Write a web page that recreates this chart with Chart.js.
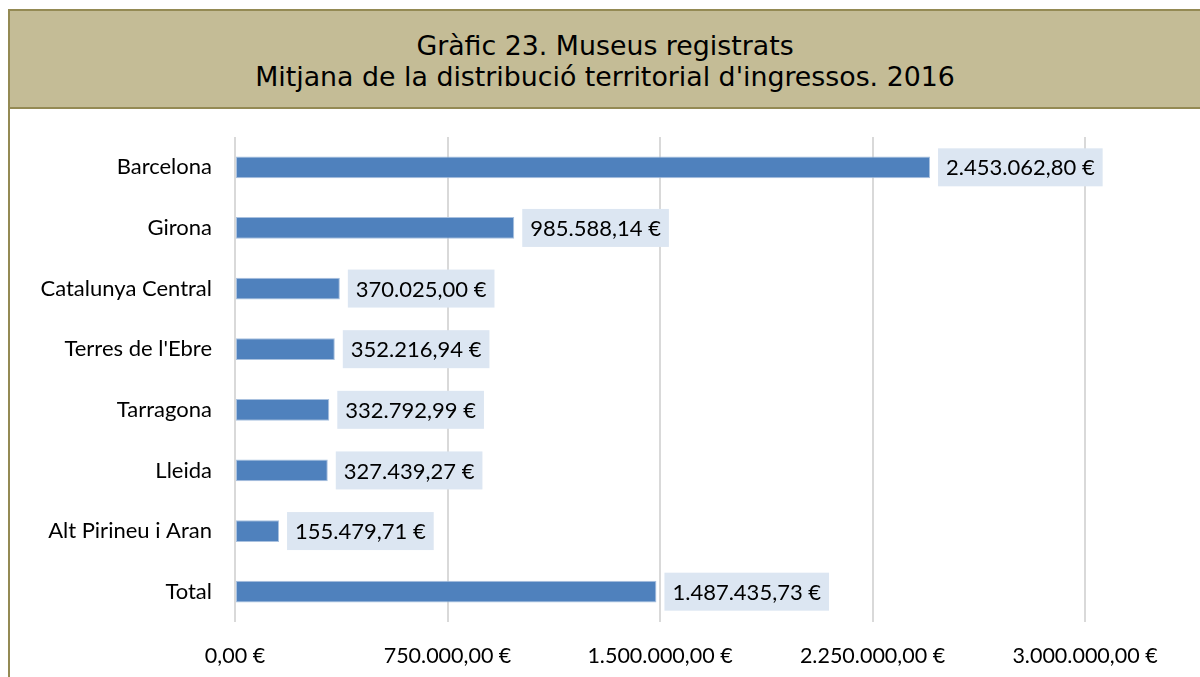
<!DOCTYPE html>
<html>
<head>
<meta charset="utf-8">
<script src="https://cdn.jsdelivr.net/npm/chart.js@4.4.1/dist/chart.umd.min.js"></script>
<style>
  body { margin: 0; width: 1200px; height: 677px; background: #fff; overflow: hidden; position: relative; }
  #marc { position: absolute; left: 8px; top: 9px; width: 1192px; height: 668px; border-left: 2px solid #948a54; box-sizing: border-box; }
  #titol {
    position: absolute; left: 8px; top: 9px; width: 1192px; height: 100px; box-sizing: border-box;
    background: #c4bc96; border-top: 2px solid #948a54; border-bottom: 2px solid #948a54; border-left: 2px solid #948a54;
    font-family: "DejaVu Sans", Verdana, sans-serif; font-size: 26.8px; line-height: 31px; color: #000;
    text-align: center; padding-top: 19px;
  }
  #caixa { position: absolute; left: 10px; top: 109px; width: 1190px; height: 568px; }
</style>
</head>
<body>
<div id="marc"></div>
<div id="titol">Gràfic 23. Museus registrats<br>Mitjana de la distribució territorial d'ingressos. 2016</div>
<div id="caixa"><canvas id="grafic_ingressos"></canvas></div>
<script>
const territoris = ['Barcelona', 'Girona', 'Catalunya Central', "Terres de l'Ebre", 'Tarragona', 'Lleida', 'Alt Pirineu i Aran', 'Total'];
const ingressos = [2453062.80, 985588.14, 370025.00, 352216.94, 332792.99, 327439.27, 155479.71, 1487435.73];
const marques = [0, 750000, 1500000, 2250000, 3000000];

function euros(v) {
  let parts = v.toFixed(2).split('.');
  let enter = parts[0].replace(/\B(?=(\d{3})+(?!\d))/g, '.');
  return enter + ',' + parts[1] + ' €';
}

const etiquetesValor = {
  id: 'etiquetesValor',
  afterDatasetsDraw(chart) {
    const ctx = chart.ctx;
    const meta = chart.getDatasetMeta(0);
    ctx.save();
    ctx.font = '22px Lato, "Open Sans", sans-serif';
    ctx.textBaseline = 'middle';
    meta.data.forEach(function (barra, i) {
      let text = euros(ingressos[i]);
      let amplada = ctx.measureText(text).width;
      let x = barra.x + 8;
      ctx.fillStyle = '#dce6f2';
      ctx.fillRect(x, barra.y - 19, amplada + 16, 38);
      ctx.fillStyle = '#000';
      ctx.fillText(text, x + 8, barra.y + 1);
    });
    ctx.restore();
  }
};

new Chart(document.getElementById('grafic_ingressos'), {
  type: 'bar',
  data: {
    labels: territoris,
    datasets: [{
      data: ingressos,
      backgroundColor: '#4f81bd',
      borderColor: '#a9c1df',
      borderWidth: 1,
      borderSkipped: false,
      barPercentage: 0.36,
      categoryPercentage: 1
    }]
  },
  options: {
    indexAxis: 'y',
    responsive: true,
    maintainAspectRatio: false,
    animation: false,
    layout: { padding: { left: 0, right: 115, top: 28, bottom: 0 } },
    plugins: {
      legend: { display: false },
      tooltip: { enabled: false }
    },
    scales: {
      x: {
        min: 0,
        max: 3000000,
        afterBuildTicks: function (s) { s.ticks = marques.map(v => ({ value: v })); },
        afterFit: function (s) { s.height = 55; },
        grid: { color: '#d9d9d9', lineWidth: 2, drawTicks: false },
        border: { display: false },
        ticks: {
          padding: 21,
          color: '#000',
          font: { family: 'Lato, "Open Sans", sans-serif', size: 21.5 },
          maxRotation: 0,
          callback: function (v) { return euros(v); }
        }
      },
      y: {
        afterFit: function (s) {
          s.width = 225;
          s.paddingTop = 0;
          s.paddingBottom = 0;
        },
        grid: { display: false, drawTicks: false },
        border: { display: false },
        ticks: {
          padding: 23,
          color: '#000',
          font: { family: 'Lato, "Open Sans", sans-serif', size: 22 }
        }
      }
    }
  },
  plugins: [etiquetesValor]
});
</script>
</body>
</html>
